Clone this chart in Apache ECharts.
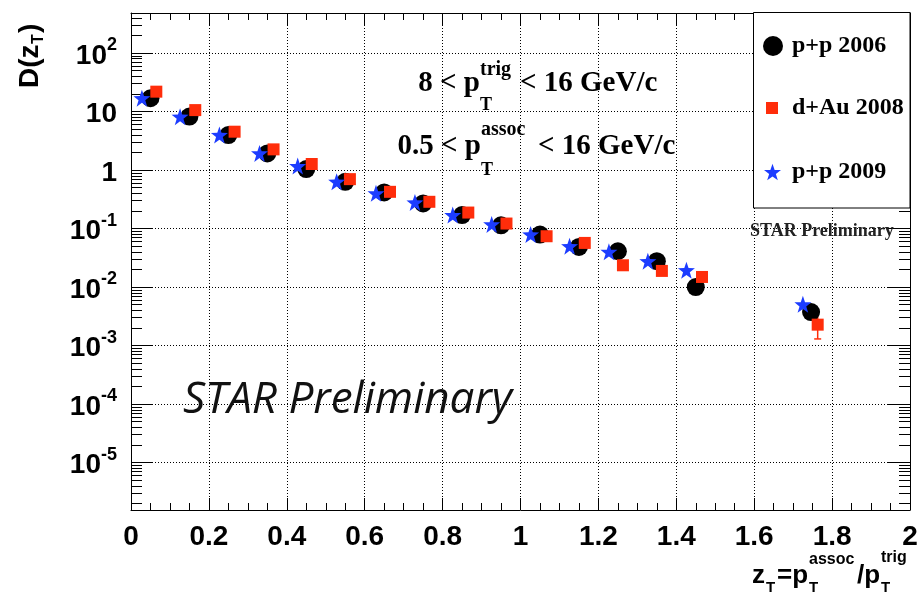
<!DOCTYPE html>
<html>
<head>
<meta charset="utf-8">
<script src="https://cdn.jsdelivr.net/npm/echarts@6/dist/echarts.min.js"></script>
<style>
  html, body { margin: 0; background: #fff; }
  #chart { width: 918px; height: 594px; }
</style>
</head>
<body>
<div id="chart"></div>
<script>
// values (z_T, D(z_T))
const pp2006X = [0.05, 0.15, 0.25, 0.35, 0.45, 0.55, 0.65, 0.75, 0.85, 0.95, 1.05, 1.15, 1.25, 1.35, 1.45, 1.746];
const pp2006Y = [16.9, 8.2, 3.97, 1.93, 1.04, 0.63, 0.415, 0.269, 0.17, 0.114, 0.079, 0.0486, 0.041, 0.0277, 0.0100, 0.00375];

const dAu2008X = [0.065, 0.165, 0.266, 0.366, 0.464, 0.562, 0.665, 0.766, 0.866, 0.964, 1.067, 1.165, 1.263, 1.363, 1.466, 1.763];
const dAu2008Y = [21.9, 10.6, 4.53, 2.26, 1.27, 0.70, 0.425, 0.287, 0.188, 0.122, 0.074, 0.0569, 0.0236, 0.0189, 0.0149, 0.00228];
// only visible error bar: [x, low, high]
const dAu2008Err = [[1.763, 0.0013, 0.0035]];

const pp2009X = [0.028, 0.126, 0.227, 0.33, 0.428, 0.528, 0.629, 0.729, 0.826, 0.926, 1.026, 1.126, 1.227, 1.327, 1.426, 1.725];
const pp2009Y = [16.9, 8.18, 3.97, 1.93, 1.17, 0.63, 0.40, 0.28, 0.17, 0.118, 0.079, 0.050, 0.040, 0.0277, 0.0194, 0.00507];

const decades = [1e-5, 1e-4, 1e-3, 1e-2, 1e-1, 1, 10, 100];
const yMin = Math.pow(10, -5.81);
const yMax = Math.pow(10, 2.685);

const SANS = '"Liberation Sans", Arial, sans-serif';
const SERIF = '"Liberation Serif", "Times New Roman", serif';
const RED = '#ff2d0a';
const BLUE = '#1c3cff';
const STAR = 'path://M50,0 L62,34 L98,35 L69,57 L80,92 L50,71 L20,92 L31,57 L2,35 L38,34 Z';

// 2..9 x 10^k minor ticks of the log axis
const minorY = [];
for (let k = -6; k <= 2; k++) {
  for (let m = 2; m <= 9; m++) {
    const v = m * Math.pow(10, k);
    if (v > yMin && v < yMax) minorY.push(v);
  }
}

const zip = (xs, ys) => xs.map((x, i) => [x, ys[i]]);

const chart = echarts.init(document.getElementById('chart'), null, { renderer: 'canvas' });

const tickLine = { color: '#000', width: 1 };
const dotted = { color: '#000', width: 1, type: [1, 2] };

const xBase = {
  type: 'value', min: 0, max: 2, interval: 0.2,
  axisLine: { show: true, onZero: false, lineStyle: tickLine },
  axisTick: { show: true, inside: true, length: 12, lineStyle: tickLine },
  minorTick: { show: true, splitNumber: 4, length: 7, lineStyle: tickLine },
  splitLine: { show: false }
};

const supLabel = v => {
  const e = Math.round(Math.log10(v));
  if (e === 0) return '{b|1}';
  if (e === 1) return '{b|10}';
  return '{b|10}{s|' + e + '}';
};

const text = (x, y, str, size, family, extra) => ({
  type: 'text', x: x, y: y, z: 10,
  style: Object.assign({
    text: str, fontSize: size, fontWeight: 'bold', fontFamily: family,
    fill: '#000', align: 'left', verticalAlign: 'middle'
  }, extra || {})
});

const legendText = { fontFamily: SERIF, fontWeight: 'bold', fontSize: 24, color: '#000' };

chart.setOption({
  animation: false,
  backgroundColor: '#fff',
  grid: { left: 131, top: 13, right: 8, bottom: 84, containLabel: false, outerBoundsMode: 'none' },
  xAxis: [
    Object.assign({}, xBase, {
      position: 'bottom',
      axisLabel: { show: true, margin: 13, fontFamily: SANS, fontWeight: 'bold', fontSize: 28, color: '#000' },
      splitLine: { show: true, lineStyle: dotted }
    }),
    Object.assign({}, xBase, { position: 'top', axisLabel: { show: false } })
  ],
  yAxis: [
    {
      type: 'log', min: yMin, max: yMax, position: 'left',
      axisLine: { show: true, lineStyle: tickLine },
      axisTick: { show: true, inside: true, length: 22, customValues: decades, lineStyle: tickLine },
      axisLabel: {
        customValues: decades, margin: 14, formatter: supLabel,
        rich: {
          b: { fontFamily: SANS, fontWeight: 'bold', fontSize: 28, color: '#000', lineHeight: 34, verticalAlign: 'bottom' },
          s: { fontFamily: SANS, fontWeight: 'bold', fontSize: 18, color: '#000', lineHeight: 34, verticalAlign: 'top' }
        }
      },
      splitLine: { show: true, lineStyle: dotted }
    },
    {
      type: 'log', min: yMin, max: yMax, position: 'left',
      axisLine: { show: false },
      axisTick: { show: true, inside: true, length: 11, customValues: minorY, lineStyle: tickLine },
      axisLabel: { show: false }, splitLine: { show: false }
    },
    {
      type: 'log', min: yMin, max: yMax, position: 'right',
      axisLine: { show: true, lineStyle: tickLine },
      axisTick: { show: true, inside: true, length: 22, customValues: decades, lineStyle: tickLine },
      axisLabel: { show: false }, splitLine: { show: false }
    },
    {
      type: 'log', min: yMin, max: yMax, position: 'right',
      axisLine: { show: false },
      axisTick: { show: true, inside: true, length: 11, customValues: minorY, lineStyle: tickLine },
      axisLabel: { show: false }, splitLine: { show: false }
    }
  ],
  legend: [
    { data: ['p+p 2006'], left: 763, top: 34, padding: 0, itemWidth: 20, itemHeight: 20, selectedMode: false,
      textStyle: Object.assign({ padding: [0, 0, 0, 4] }, legendText) },
    { data: ['d+Au 2008'], left: 766, top: 96, padding: 0, itemWidth: 12, itemHeight: 12, selectedMode: false,
      textStyle: Object.assign({ padding: [0, 0, 0, 9] }, legendText) },
    { data: ['p+p 2009'], left: 764, top: 160, padding: 0, itemWidth: 17, itemHeight: 17, selectedMode: false,
      textStyle: Object.assign({ padding: [0, 0, 0, 6] }, legendText) }
  ],
  graphic: [
    { type: 'rect', z: 3, shape: { x: 753.5, y: 12.5, width: 156.5, height: 195.5 },
      style: { fill: '#fff', stroke: '#000', lineWidth: 1 } },
    text(750, 231, 'STAR Preliminary', 18, SERIF, { fill: '#222' }),
    // 8 < pT(trig) < 16 GeV/c
    text(480, 84, '8 < p', 29, SERIF, { align: 'right' }),
    text(480, 70, 'trig', 20, SERIF),
    text(480, 105, 'T', 18, SERIF),
    text(520, 84, '< 16 GeV/c', 29, SERIF),
    // 0.5 < pT(assoc) < 16 GeV/c
    text(481, 147, '0.5 < p', 29, SERIF, { align: 'right' }),
    text(481, 130, 'assoc', 20, SERIF),
    text(481, 170, 'T', 18, SERIF),
    text(538, 147, '< 16 GeV/c', 29, SERIF),
    // big watermark
    text(183, 400, 'STAR Preliminary', 44, '"Open Sans", sans-serif', { fontWeight: 'normal', fontStyle: 'italic', fill: '#111' }),
    // y axis title D(z_T)
    { type: 'group', x: 30, y: 88, rotation: Math.PI / 2, z: 10, children: [
      text(0, 0, 'D(z', 28, SANS),
      text(44, 9, 'T', 16, SANS),
      text(55, 0, ')', 28, SANS)
    ] },
    // x axis title z_T = pT(assoc) / pT(trig)
    text(752, 576, 'z', 26, SANS),
    text(766, 588, 'T', 15, SANS),
    text(777, 576, '=p', 26, SANS),
    text(809, 560, 'assoc', 16, SANS),
    text(809, 588, 'T', 15, SANS),
    text(857, 576, '/p', 26, SANS),
    text(881, 558, 'trig', 16, SANS),
    text(881, 588, 'T', 15, SANS)
  ],
  series: [
    {
      name: 'p+p 2006', type: 'scatter', data: zip(pp2006X, pp2006Y),
      symbol: 'circle', symbolSize: 18, itemStyle: { color: '#000', opacity: 1 }, z: 2
    },
    {
      type: 'custom', data: dAu2008Err, encode: { x: 0, y: [1, 2] }, z: 2,
      renderItem: (params, api) => {
        const hi = api.coord([api.value(0), api.value(2)]);
        const lo = api.coord([api.value(0), api.value(1)]);
        const st = { stroke: RED, lineWidth: 1.5 };
        return { type: 'group', children: [
          { type: 'line', shape: { x1: hi[0], y1: hi[1], x2: lo[0], y2: lo[1] }, style: st },
          { type: 'line', shape: { x1: lo[0] - 3.5, y1: lo[1], x2: lo[0] + 3.5, y2: lo[1] }, style: st }
        ] };
      }
    },
    {
      name: 'd+Au 2008', type: 'scatter', data: zip(dAu2008X, dAu2008Y),
      symbol: 'rect', symbolSize: 12, itemStyle: { color: RED, opacity: 1 }, z: 3
    },
    {
      name: 'p+p 2009', type: 'scatter', data: zip(pp2009X, pp2009Y),
      symbol: STAR, symbolSize: 17, itemStyle: { color: BLUE, opacity: 1 }, z: 3
    }
  ]
});

window.addEventListener('resize', () => chart.resize());
</script>
</body>
</html>
